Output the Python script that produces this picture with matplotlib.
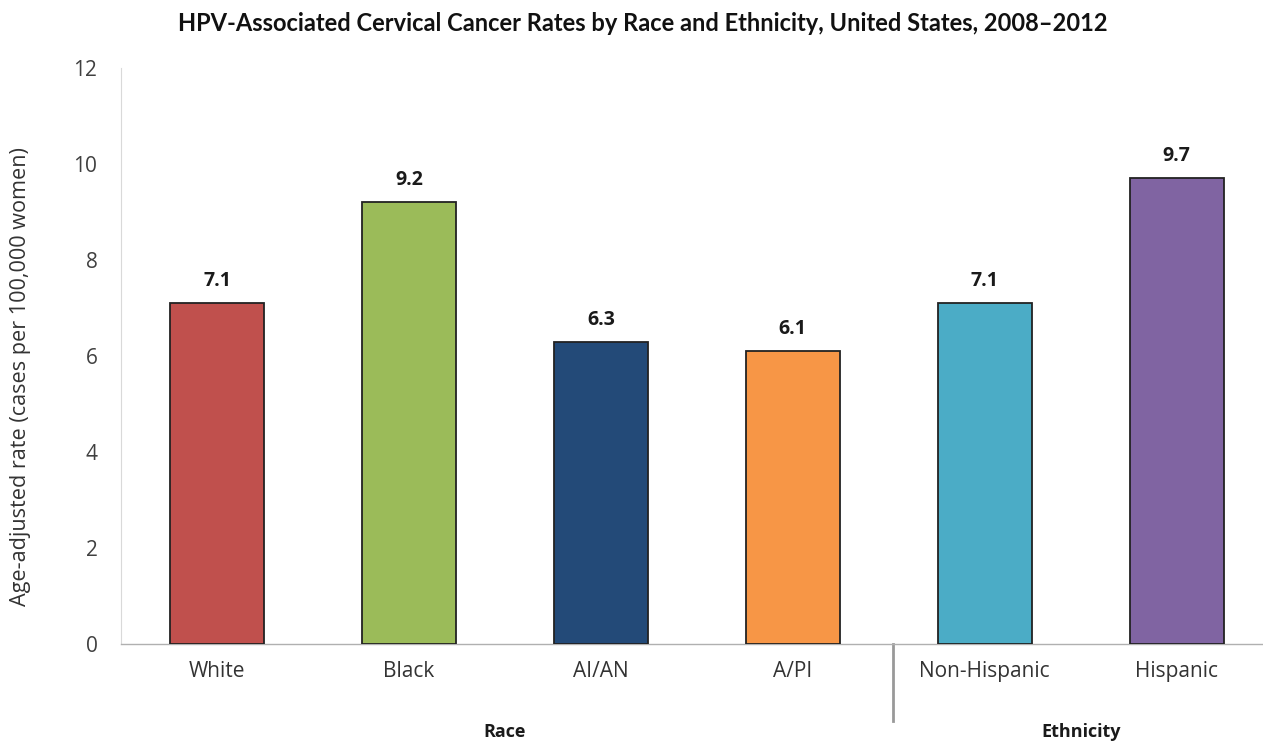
import numpy as np
import matplotlib
matplotlib.use("Agg")
import matplotlib.pyplot as plt

# age-adjusted cervical cancer rates, 2008-2012
groups = ["White", "Black", "AI/AN", "A/PI", "Non-Hispanic", "Hispanic"]
rates = [7.1, 9.2, 6.3, 6.1, 7.1, 9.7]
barColors = ["#C0504D", "#9BBB59", "#234A78", "#F79646", "#4BACC6", "#8064A2"]
sections = ["Race", "Ethnicity"]
sectionMembers = [[0, 1, 2, 3], [4, 5]]
yTicks = [0, 2, 4, 6, 8, 10, 12]

plt.rcParams['font.family'] = ['Open Sans', 'DejaVu Sans']

fig = plt.figure(figsize=(12.63, 7.42), dpi=100)
ax = fig.add_axes([0.0958, 0.1321, 0.9042, 0.7763])

x = np.arange(len(groups))
bars = ax.bar(x, rates, width=0.49, color=barColors, edgecolor="#222222", linewidth=1.3, zorder=3)

for b, v in zip(bars, rates):
    ax.text(b.get_x() + b.get_width() / 2, v + 0.25, "%.1f" % v, ha="center", va="bottom",
            fontsize=14, fontweight="bold", color="#1a1a1a")

ax.set_xlim(-0.5, 5.45)
ax.set_ylim(0, 12)
ax.set_yticks(yTicks)
ax.set_yticklabels([str(t) for t in yTicks], fontsize=15, color="#404040")
ax.set_xticks(x)
ax.set_xticklabels(groups, fontsize=15, color="#333333")
ax.tick_params(axis="both", length=0)
ax.tick_params(axis="y", pad=17)
ax.tick_params(axis="x", pad=12)

for s in ["top", "right"]:
    ax.spines[s].set_visible(False)
ax.spines["left"].set_color("#d9d9d9")
ax.spines["bottom"].set_color("#b0b0b0")
ax.spines["bottom"].set_linewidth(1.0)

ax.set_ylabel("Age-adjusted rate (cases per 100,000 women)", fontsize=15.6, color="#333333")
ax.yaxis.set_label_coords(-0.079, 0.465)

# divider between race and ethnicity, below the axis
ax.plot([3.52, 3.52], [0, -1.6], color="#999999", linewidth=2, clip_on=False)

for name, idx in zip(sections, sectionMembers):
    cx = (x[idx[0]] + x[idx[-1]]) / 2
    ax.text(cx, -1.84, name, ha="center", va="center", fontsize=13, fontweight="bold", color="#1a1a1a")

fig.text(0.509, 0.969, "HPV-Associated Cervical Cancer Rates by Race and Ethnicity, United States, 2008\u20132012",
         ha="center", va="center", fontsize=17, fontweight="bold", family=["Lato", "DejaVu Sans"], color="#111111")

fig.savefig("out.png", dpi=100)
